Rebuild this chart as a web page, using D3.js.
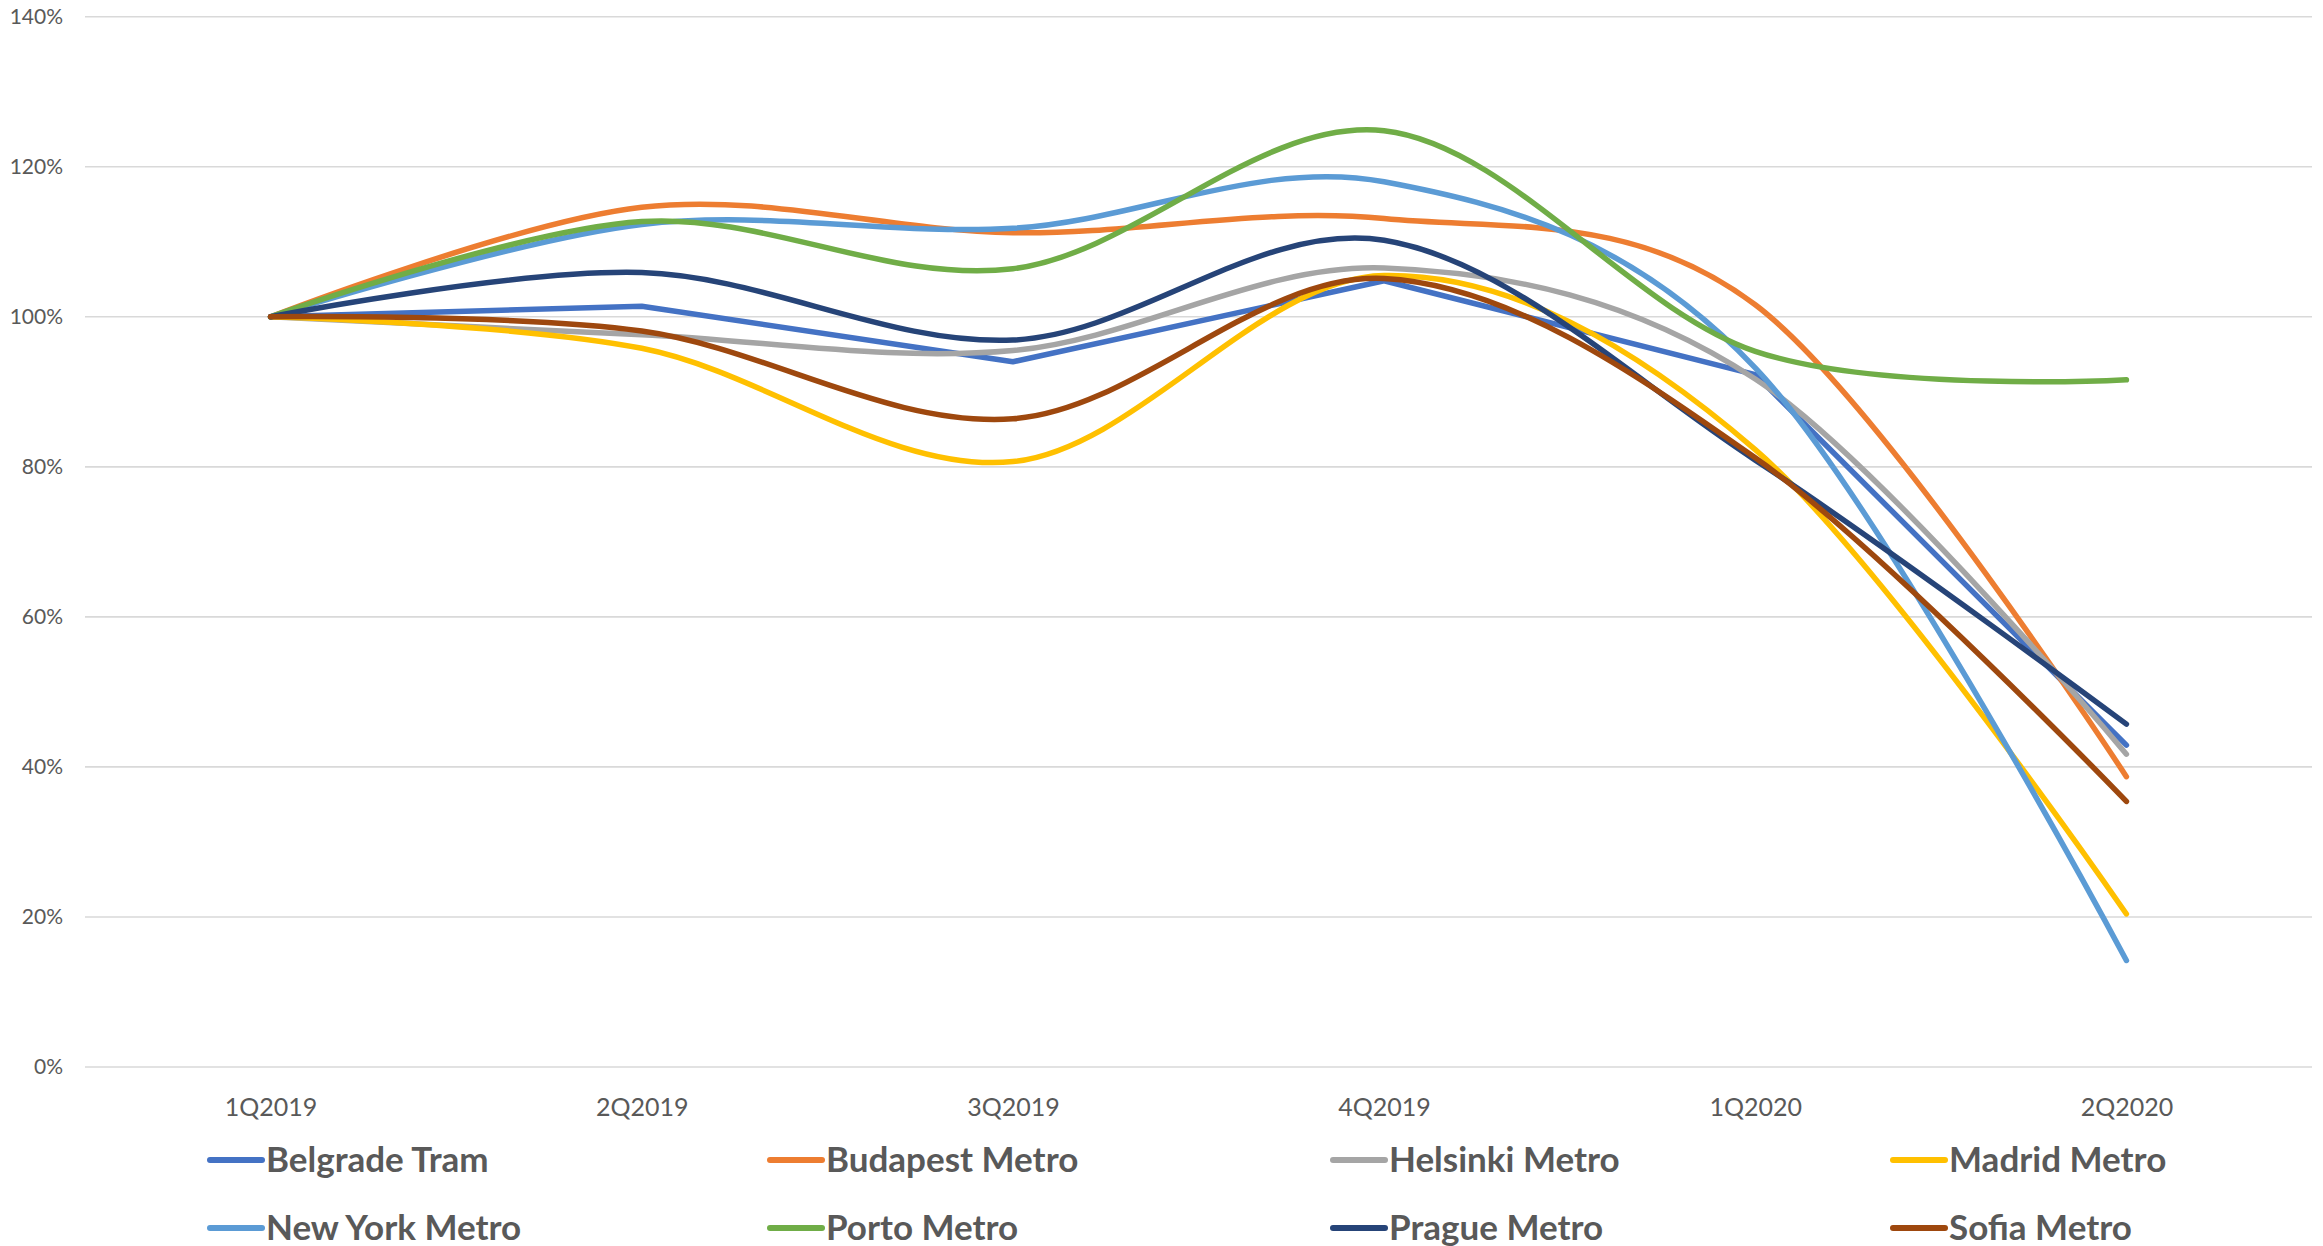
<!DOCTYPE html>
<html>
<head>
<meta charset="utf-8">
<script src="https://cdn.jsdelivr.net/npm/d3@7"></script>
<style>
  html, body { margin: 0; padding: 0; background: #ffffff; }
  svg { display: block; }
</style>
</head>
<body>
<svg id="chart" width="2323" height="1246"></svg>
<script>
// ---- Data ----
const categories = ["1Q2019", "2Q2019", "3Q2019", "4Q2019", "1Q2020", "2Q2020"];
const yTicks = [0, 20, 40, 60, 80, 100, 120, 140];

const belgradeTram  = [100, 101.4, 94.0, 104.8, 92.3, 42.9];
const budapestMetro = [100, 114.6, 111.2, 113.1, 101.6, 38.7];
const helsinkiMetro = [100, 97.6, 95.5, 106.5, 91.7, 41.7];
const madridMetro   = [100, 95.8, 80.7, 105.5, 82.3, 20.4];
const newYorkMetro  = [100, 112.3, 111.8, 118.0, 93.2, 14.2];
const portoMetro    = [100, 112.7, 106.4, 124.8, 95.4, 91.6];
const pragueMetro   = [100, 105.9, 96.9, 110.2, 80.9, 45.7];
const sofiaMetro    = [100, 98.1, 86.4, 105.1, 81.2, 35.4];

const seriesNames = ["Belgrade Tram", "Budapest Metro", "Helsinki Metro", "Madrid Metro",
                     "New York Metro", "Porto Metro", "Prague Metro", "Sofia Metro"];
const seriesValues = [belgradeTram, budapestMetro, helsinkiMetro, madridMetro,
                      newYorkMetro, portoMetro, pragueMetro, sofiaMetro];
const seriesColors = ["#4472C4", "#ED7D31", "#A5A5A5", "#FFC000",
                      "#5B9BD5", "#70AD47", "#264478", "#9E480E"];
const seriesSmooth = [false, true, true, true, true, true, true, true];

// ---- Layout ----
const W = 2323, H = 1246;
const plotLeft = 85, plotRight = 2312, plotTop = 16.7, plotBottom = 1067;
const textColor = "#595959";
const fontFamily = "Lato, 'Open Sans', sans-serif";

const svg = d3.select("#chart");

const x = d3.scalePoint().domain(categories).range([plotLeft, plotRight]).padding(0.5);
const y = d3.scaleLinear().domain([0, 140]).range([plotBottom, plotTop]);

// Gridlines
svg.append("g")
  .selectAll("line")
  .data(yTicks)
  .join("line")
  .attr("x1", plotLeft).attr("x2", plotRight)
  .attr("y1", d => y(d)).attr("y2", d => y(d))
  .attr("stroke", "#D9D9D9").attr("stroke-width", 1.6);

// Y axis labels
const yAxis = d3.axisLeft(y).tickValues(yTicks).tickFormat(d => d + "%").tickSize(0).tickPadding(0);
const yg = svg.append("g").attr("transform", `translate(63,0)`).call(yAxis);
yg.select(".domain").remove();
yg.selectAll("text")
  .attr("fill", textColor)
  .style("font-family", fontFamily)
  .style("font-size", "21px");

// X axis labels
const xAxis = d3.axisBottom(x).tickSize(0).tickPadding(0);
const xg = svg.append("g").attr("transform", `translate(0,1098)`).call(xAxis);
xg.select(".domain").remove();
xg.selectAll("text")
  .attr("fill", textColor)
  .attr("dy", "0.71em")
  .style("font-family", fontFamily)
  .style("font-size", "25px");

// Lines
const lineSmooth = d3.line()
  .x((d, i) => x(categories[i]))
  .y(d => y(d))
  .curve(d3.curveCatmullRom.alpha(0));
const lineStraight = d3.line()
  .x((d, i) => x(categories[i]))
  .y(d => y(d));

svg.append("g")
  .selectAll("path")
  .data(seriesValues)
  .join("path")
  .attr("d", (d, i) => (seriesSmooth[i] ? lineSmooth : lineStraight)(d))
  .attr("fill", "none")
  .attr("stroke", (d, i) => seriesColors[i])
  .attr("stroke-width", 5.5)
  .attr("stroke-linecap", "round")
  .attr("stroke-linejoin", "round");

// Legend
const legendColX = [207, 767, 1330, 1890];
const legendRowY = [1172, 1240];
const legend = svg.append("g");
const items = legend.selectAll("g")
  .data(seriesNames)
  .join("g")
  .attr("transform", (d, i) => `translate(${legendColX[i % 4]},${legendRowY[Math.floor(i / 4)]})`);
items.append("line")
  .attr("x1", 3).attr("x2", 55)
  .attr("y1", -12).attr("y2", -12)
  .attr("stroke", (d, i) => seriesColors[i])
  .attr("stroke-width", 6)
  .attr("stroke-linecap", "round");
items.append("text")
  .attr("x", 59).attr("y", 0)
  .attr("fill", textColor)
  .style("font-family", fontFamily)
  .style("font-weight", "bold")
  .style("font-size", "35px")
  .text(d => d);
</script>
</body>
</html>
